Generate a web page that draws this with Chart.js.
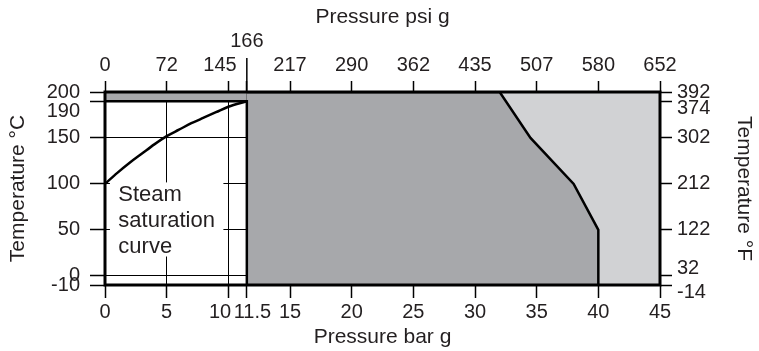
<!DOCTYPE html>
<html lang="en">
<head>
<meta charset="UTF-8" />
<title>Pressure / temperature limits</title>
<script src="https://cdn.jsdelivr.net/npm/chart.js"></script>
<style>
  html, body { margin: 0; padding: 0; background: #fff; }
  .chart-wrapper { width: 759px; height: 351px; position: relative; }
</style>
</head>
<body>
<div class="chart-wrapper"><canvas id="limitChart"></canvas></div>
<script>
  // axis ticks
  const barTicks = [0, 5, 10, 11.5, 15, 20, 25, 30, 35, 40, 45];
  const barLabels = ['0', '5', '10', '11.5', '15', '20', '25', '30', '35', '40', '45'];
  const psiLabels = ['0', '72', '145', '166', '217', '290', '362', '435', '507', '580', '652'];
  const celsiusTicks = [-10, 0, 50, 100, 150, 190, 200];
  const fahrenheitLabels = ['-14', '32', '122', '212', '302', '374', '392'];

  // steam saturation curve (bar g -> °C)
  const satBar = [0, 1, 2, 3, 4, 5, 6, 7, 8, 9, 10, 11.5];
  const satTemp = [100, 112, 123, 133, 143, 152, 159, 166, 172, 178, 184, 190];

  // upper limit line of the dark area
  const limitBar = [11.5, 32, 34.5, 38, 40, 40];
  const limitTemp = [200, 200, 150, 100, 50, -10];

  // corner round the white area (190 °C, 11.5 bar g)
  const cornerBar = [0, 11.5, 11.5];
  const cornerTemp = [190, 190, -10];

  // dark strip above the white area
  const stripBar = [0, 11.5];
  const stripTemp = [200, 200];

  // light area right of the limit line
  const lightBar = [32, 45];
  const lightTemp = [200, 200];

  const DARK = '#a7a8ab';
  const LIGHT = '#d1d2d4';
  const INK = '#231f20';
  const FONT = "'Liberation Sans', Arial, sans-serif";

  Chart.defaults.font.family = FONT;
  Chart.defaults.color = INK;

  const toPoints = (xs, ys) => xs.map((x, i) => ({ x: x, y: ys[i] }));
  const setTicks = (values) => (scale) => { scale.ticks = values.map(v => ({ value: v })); };

  const extras = {
    id: 'extras',
    beforeDatasetsDraw(chart) {
      const { ctx, scales: { x, y } } = chart;
      // white box behind the label hides the grid
      const left = x.getPixelForValue(0.4);
      const right = x.getPixelForValue(9.6);
      const top = y.getPixelForValue(100) - 1.5;
      const bottom = y.getPixelForValue(21);
      ctx.save();
      ctx.fillStyle = '#fff';
      ctx.fillRect(left, top, right - left, bottom - top);
      ctx.fillStyle = INK;
      ctx.font = '22px ' + FONT;
      ctx.textBaseline = 'alphabetic';
      ['Steam', 'saturation', 'curve'].forEach((t, i) => {
        ctx.fillText(t, x.getPixelForValue(1.08), top + 19 + i * 26);
      });
      ctx.restore();
    },
    afterDatasetsDraw(chart) {
      const { ctx, chartArea: a, scales: { x2 } } = chart;
      ctx.save();
      ctx.strokeStyle = '#000';
      ctx.lineWidth = 3;
      ctx.strokeRect(a.left, a.top, a.right - a.left, a.bottom - a.top);
      // 166 psi g gets a longer tick
      const px = x2.getPixelForValue(barTicks[3]);
      ctx.lineWidth = 1.5;
      ctx.beginPath();
      ctx.moveTo(px, a.top);
      ctx.lineTo(px, a.top - 34);
      ctx.stroke();
      ctx.restore();
    }
  };

  new Chart(document.getElementById('limitChart'), {
    type: 'line',
    data: {
      datasets: [{
        label: 'Steam saturation curve',
        data: toPoints(satBar, satTemp),
        borderColor: '#000',
        borderWidth: 2.5,
        pointRadius: 0,
        cubicInterpolationMode: 'monotone',
        fill: false,
        order: 1
      }, {
        label: 'Corner',
        data: toPoints(cornerBar, cornerTemp),
        borderColor: '#000',
        borderWidth: 2.5,
        pointRadius: 0,
        fill: false,
        order: 2
      }, {
        label: 'Strip',
        data: toPoints(stripBar, stripTemp),
        borderWidth: 0,
        pointRadius: 0,
        backgroundColor: DARK,
        fill: { value: 190 },
        order: 3
      }, {
        label: 'Limit',
        data: toPoints(limitBar, limitTemp),
        borderColor: '#000',
        borderWidth: 2.5,
        pointRadius: 0,
        backgroundColor: DARK,
        fill: 'start',
        order: 4
      }, {
        label: 'Light',
        data: toPoints(lightBar, lightTemp),
        borderWidth: 0,
        pointRadius: 0,
        backgroundColor: LIGHT,
        fill: 'start',
        order: 5
      }]
    },
    options: {
      responsive: true,
      maintainAspectRatio: false,
      animation: false,
      layout: { padding: 0 },
      plugins: { legend: { display: false }, tooltip: { enabled: false } },
      scales: {
        x: {
          type: 'linear', position: 'bottom', min: 0, max: 45,
          afterBuildTicks: setTicks(barTicks),
          afterFit: (s) => { s.height = 66; },
          ticks: {
            autoSkip: false, maxRotation: 0, padding: 2, font: { size: 20 },
            callback: (v, i) => {
              if (barLabels[i] === '10') return barLabels[i] + '   ';
              if (barLabels[i] === '11.5') return '  ' + barLabels[i];
              return barLabels[i];
            }
          },
          grid: { color: '#000', lineWidth: 1, tickColor: '#000', tickWidth: 1.5, tickLength: 13 },
          border: { display: false },
          title: { display: true, text: 'Pressure bar g', font: { size: 21 }, padding: { top: 0, bottom: 1 } }
        },
        x2: {
          type: 'linear', position: 'top', min: 0, max: 45,
          afterBuildTicks: setTicks(barTicks),
          afterFit: (s) => { s.height = 92; },
          ticks: {
            autoSkip: false, maxRotation: 0, padding: 4, font: { size: 20, lineHeight: 1.2 },
            callback: (v, i) => {
              if (psiLabels[i] === '166') return [psiLabels[i], ''];
              if (psiLabels[i] === '145') return psiLabels[i] + '   ';
              return psiLabels[i];
            }
          },
          grid: { drawOnChartArea: false, tickColor: '#000', tickWidth: 1.5, tickLength: 11 },
          border: { display: false },
          title: { display: true, text: 'Pressure psi g', font: { size: 21 }, padding: { top: 5, bottom: 0 } }
        },
        y: {
          type: 'linear', position: 'left', min: -10, max: 200,
          afterBuildTicks: setTicks(celsiusTicks),
          afterFit: (s) => { s.width = 105; },
          ticks: {
            autoSkip: false, padding: 10, font: { size: 20, lineHeight: 1 },
            callback: (v) => v === 190 ? ['', String(v)] : String(v)
          },
          grid: { color: '#000', lineWidth: 1, tickColor: '#000', tickWidth: 1.5, tickLength: 15 },
          border: { display: false },
          title: { display: true, text: 'Temperature °C', font: { size: 21 }, padding: { top: 6, bottom: 0 } }
        },
        y2: {
          type: 'linear', position: 'right', min: -10, max: 200,
          afterBuildTicks: setTicks(celsiusTicks),
          afterFit: (s) => { s.width = 99; },
          ticks: {
            autoSkip: false, padding: 5, font: { size: 20, lineHeight: 0.7 },
            callback: (v, i) => {
              const t = fahrenheitLabels[i];
              if (t === '374' || t === '-14') return ['', t];
              if (t === '32') return [t, ''];
              return t;
            }
          },
          grid: { drawOnChartArea: false, tickColor: '#000', tickWidth: 1.5, tickLength: 12 },
          border: { display: false },
          title: { display: true, text: 'Temperature °F', font: { size: 21 }, padding: { top: 3, bottom: 0 } }
        }
      }
    },
    plugins: [extras]
  });
</script>
</body>
</html>
